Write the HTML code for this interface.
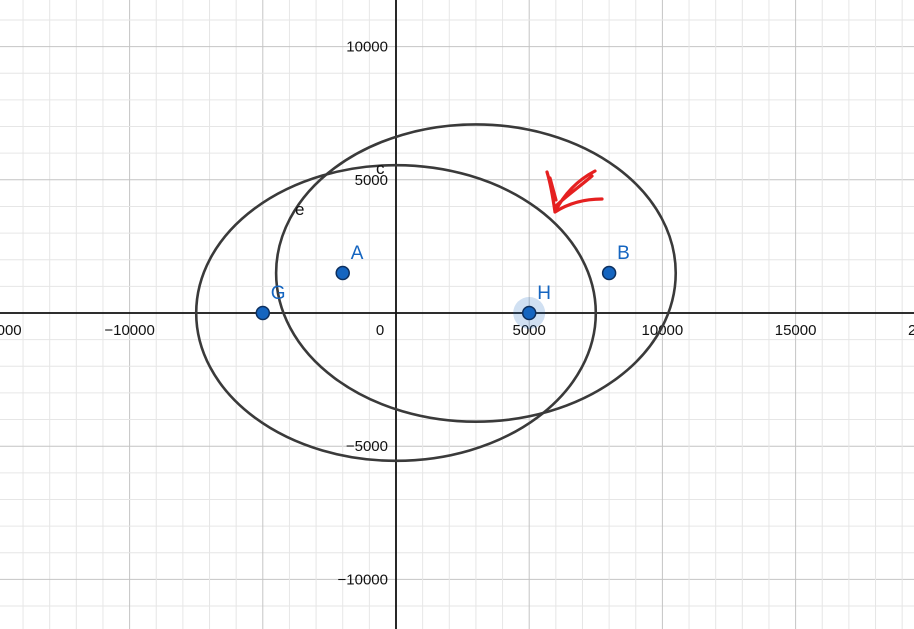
<!DOCTYPE html>
<html><head><meta charset="utf-8"><style>
html,body{margin:0;padding:0;background:#fff;}
svg{display:block;font-family:"Liberation Sans",sans-serif;}
</style></head><body>
<svg id="chart" width="914" height="629" viewBox="0 0 914 629"></svg>
<script>
const pointNames = ["A","B","G","H"];
const pointX = [-2000, 8000, -5000, 5000];
const pointY = [1500, 1500, 0, 0];
const ellipseNames = ["e","c"];
const ellipseCX = [0, 3000];
const ellipseCY = [0, 1500];
const ellipseRX = [7500, 7500];
const ellipseRY = [5550, 5580];
const xTickValues = [-15000,-10000,5000,10000,15000,20000];
const xTickLabels = ["\u221215000","\u221210000","5000","10000","15000","20000"];
const yTickValues = [10000,5000,-5000,-10000];
const yTickLabels = ["10000","5000","\u22125000","\u221210000"];

const W=914,H=629,OX=396,OY=313,S=133.2/5000;
const sx=v=>OX+v*S, sy=v=>OY-v*S;
const svg=document.getElementById('chart');
const NS='http://www.w3.org/2000/svg';
function mk(t,a,p){const e=document.createElementNS(NS,t);for(const k in a)e.setAttribute(k,a[k]);(p||svg).appendChild(e);return e;}

const grid=mk('g',{});


for(let v=-20000;v<=25000;v+=1000){
  const major=v%5000===0;
  const x=sx(v); if(x>=-1&&x<=W+1) mk('line',{x1:x,y1:0,x2:x,y2:H,stroke:major?'#c4c4c4':'#e6e6e6','stroke-width':1},grid);
  const y=sy(v); if(y>=-1&&y<=H+1) mk('line',{x1:0,y1:y,x2:W,y2:y,stroke:major?'#c4c4c4':'#e6e6e6','stroke-width':1},grid);
}
const xa=mk('line',{x1:0,y1:OY,x2:W,y2:OY,stroke:'#111','stroke-width':1.8});


const ya=mk('line',{x1:OX,y1:0,x2:OX,y2:H,stroke:'#111','stroke-width':1.8});



xTickValues.forEach((v,i)=>{
  const t=mk('text',{x:sx(v),y:OY+22,'text-anchor':'middle','font-size':15,fill:'#111'});
  t.textContent=xTickLabels[i];
  
  
});
const z=mk('text',{x:OX-16,y:OY+22,'text-anchor':'middle','font-size':15,fill:'#111'});z.textContent='0';


yTickValues.forEach((v,i)=>{
  const t=mk('text',{x:OX-8,y:sy(v)+5,'text-anchor':'end','font-size':15,fill:'#111'});
  t.textContent=yTickLabels[i];
  
  
});

ellipseNames.forEach((n,i)=>{
  const e=mk('ellipse',{cx:sx(ellipseCX[i]),cy:sy(ellipseCY[i]),rx:ellipseRX[i]*S,ry:ellipseRY[i]*S,fill:'none',stroke:'#3a3a3a','stroke-width':2.6});
  
  
});
const le=mk('text',{x:295,y:215,'font-size':17,fill:'#111'});le.textContent='e';


const lc=mk('text',{x:376,y:174,'font-size':17,fill:'#111'});lc.textContent='c';



const halo=mk('circle',{cx:sx(pointX[3]),cy:sy(pointY[3]),r:16,fill:'#1565c0','fill-opacity':0.2});


pointNames.forEach((n,i)=>{
  const c=mk('circle',{cx:sx(pointX[i]),cy:sy(pointY[i]),r:6.5,fill:'#1565c0',stroke:'#0d2f5e','stroke-width':1.5});
  
  
  const t=mk('text',{x:sx(pointX[i])+8,y:sy(pointY[i])-14,'font-size':19,fill:'#1565c0'});
  t.textContent=n;
  
  
});

const mark=mk('path',{d:'M547 172 C551 185 553 198 555 212 C563 196 576 181 595 171 M555 212 C569 203 586 199 602 199 M550 178 L556 200 M556 206 C566 196 578 188 592 176',fill:'none',stroke:'#e52020','stroke-width':3.2,'stroke-linecap':'round','stroke-linejoin':'round'});


</script>
</body></html>
